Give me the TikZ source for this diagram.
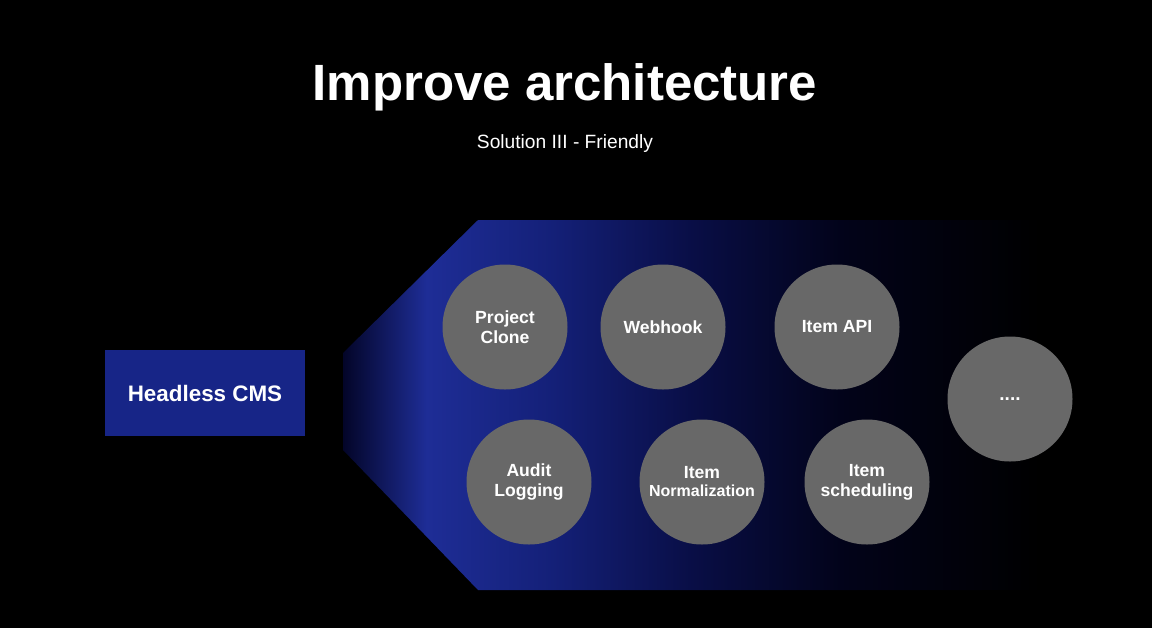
\documentclass[tikz,border=0pt]{standalone}
\usepackage{fontspec}
\setmainfont{Liberation Sans}
\usetikzlibrary{positioning}
\definecolor{cmsblue}{RGB}{23,37,135}
\definecolor{bubble}{RGB}{104,104,104}
\definecolor{fanA}{RGB}{3,5,40}
\definecolor{fanB}{RGB}{30,45,150}
\definecolor{fanC}{RGB}{20,32,120}
\definecolor{fanD}{RGB}{9,14,70}
\definecolor{fanE}{RGB}{2,3,25}
\pgfdeclarehorizontalshading{fanshade}{100bp}{color(0bp)=(fanA); color(25bp)=(fanA); color(31bp)=(fanB); color(40bp)=(fanC); color(50bp)=(fanD); color(61bp)=(fanE); color(75bp)=(black); color(100bp)=(black)}

\begin{document}
\begin{tikzpicture}[x=0.5pt,y=-0.5pt]
\tikzstyle{bub}=[circle,fill=bubble,minimum size=62.5pt,inner sep=0pt,align=center,text=white,font=\bfseries\fontsize{8.8}{10}\selectfont]
\tikzstyle{blk}=[fill=cmsblue,minimum width=100pt,minimum height=43pt,text=white,font=\bfseries\fontsize{11.2}{13}\selectfont]
\fill[black] (0,0) rectangle (1152,628);
\useasboundingbox (0,0) rectangle (1152,628);
% fan behind the services
\fill[shading=fanshade] (343,353) -- (478,220) -- (1040,220) -- (1040,590) -- (478,590) -- (343,450) -- cycle;
\node[anchor=base,text=white,font=\bfseries\fontsize{25.5}{29}\selectfont] (title) at (565,100) {Improve architecture};
\node[anchor=base,text=white,font=\fontsize{9.6}{12}\selectfont] (sub) at (565,148) {Solution III - Friendly};
\node[blk] (cms) at (205,393) {Headless CMS};
\node[bub] (s1) at (505,327) {Project\\Clone};
\node[bub] (s2) at (663,327) {Webhook};
\node[bub] (s3) at (837,327) {Item API};
\node[bub] (s4) at (529,482) {Audit\\Logging};
\node[bub] (s5) at (702,482) {Item\\[-1pt]{\fontsize{8}{9}\selectfont Normalization}};
\node[bub] (s6) at (867,482) {Item\\scheduling};
\node[bub,font=\bfseries\fontsize{9.5}{11}\selectfont] (s7) at (1010,399) {....};
\end{tikzpicture}
\end{document}
